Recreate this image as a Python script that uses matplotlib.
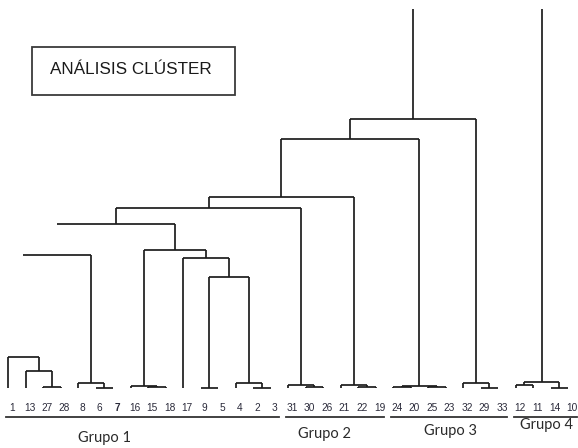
import matplotlib
matplotlib.use("Agg")
import matplotlib.pyplot as plt
import matplotlib.transforms as mtransforms
from matplotlib.patches import Rectangle

# ---- data -------------------------------------------------------------
leaf_labels = ["1", "13", "27", "28", "8", "6", "7", "16", "15", "18", "17",
               "9", "5", "4", "2", "3", "31", "30", "26", "21", "22", "19",
               "24", "20", "25", "23", "32", "29", "33", "12", "11", "14", "10"]

# merges (scipy-like): ids 0..32 are leaves (in display order), 33+ are clusters
merge_left = [2, 1, 0, 5, 4, 8, 7, 11, 14, 13, 40, 10, 39, 35, 46, 17, 16, 47,
              20, 19, 50, 22, 24, 54, 53, 27, 26, 57, 29, 31, 61, 60]
merge_right = [3, 33, 34, 6, 36, 9, 38, 12, 15, 41, 42, 43, 44, 37, 45, 18, 48,
               49, 21, 51, 52, 23, 25, 55, 56, 28, 58, 59, 30, 32, 62, 63]
merge_height = [0.1, 1.7, 3.1, 0.0, 0.5, 0.1, 0.2, 0.05, 0.0, 0.5, 11.1, 13.0,
                13.8, 13.3, 16.4, 0.1, 0.3, 18.0, 0.1, 0.3, 19.1, 0.1, 0.1,
                0.2, 24.9, 0.0, 0.5, 26.9, 0.3, 0.0, 0.6, 45.0]
# merges whose left leg is not drawn in the original figure
hidden_left_leg = [46, 47]

group_names = ["Grupo 1", "Grupo 2", "Grupo 3", "Grupo 4"]
group_first = [0, 16, 22, 29]
group_last = [15, 21, 28, 32]

title = "ANÁLISIS CLÚSTER"

# ---- figure -----------------------------------------------------------
W, H = 578, 448
fig = plt.figure(figsize=(W / 100, H / 100), dpi=100)
fig.patch.set_facecolor("white")


def fx(px):
    return px / W


def fy(py):
    return 1 - py / H


ax = fig.add_axes([0, fy(395), 1, fy(9) - fy(395)])
ax.set_axis_off()
ax.set_xlim(-8 / 17.5, (W - 8) / 17.5)
ax.set_ylim(-0.7, 37.9)

n = len(leaf_labels)
xpos = {i: float(i) for i in range(n)}
ypos = {i: 0.0 for i in range(n)}
line_kw = dict(color="#1c1c1c", lw=1.25, solid_capstyle="butt")
for k, (l, r, h) in enumerate(zip(merge_left, merge_right, merge_height)):
    cid = n + k
    xl, xr = xpos[l], xpos[r]
    if cid not in hidden_left_leg:
        ax.plot([xl, xl], [ypos[l], h], **line_kw)
    ax.plot([xl, xr], [h, h], **line_kw)
    ax.plot([xr, xr], [h, ypos[r]], **line_kw)
    xpos[cid] = (xl + xr) / 2
    ypos[cid] = h

# leaf labels
trans = mtransforms.blended_transform_factory(ax.transData, fig.transFigure)
for i, lab in enumerate(leaf_labels):
    ax.text(i + 0.23, fy(408), lab, transform=trans, ha="center", va="center",
            fontsize=7.3, family=["Liberation Sans", "DejaVu Sans"],
            color="#2a2a3a", fontweight="bold" if lab == "7" else "normal",
            clip_on=False)

# group underlines
for a, b in zip(group_first, group_last):
    ax.plot([a - 0.1, b + 0.5], [fy(417), fy(417)], transform=trans,
            color="#333333", lw=1.3, clip_on=False)

# group names
group_pos = [(105, 438), (325, 434), (451, 431), (546, 425)]
for name, (px, py) in zip(group_names, group_pos):
    fig.text(fx(px), fy(py), name, ha="center", va="center", fontsize=10.5,
             family=["Lato", "DejaVu Sans"], color="#2a2a2a")

# title box
fig.add_artist(Rectangle((fx(32), fy(95)), fx(235) - fx(32), fy(47) - fy(95),
                         transform=fig.transFigure, fill=False,
                         edgecolor="#3a3a3a", lw=1.3))
fig.text(fx(131), fy(70), title, ha="center", va="center", fontsize=12.3,
         family=["Liberation Sans", "DejaVu Sans"], color="#1a1a1a")

fig.savefig("out.png", dpi=100, facecolor="white")
